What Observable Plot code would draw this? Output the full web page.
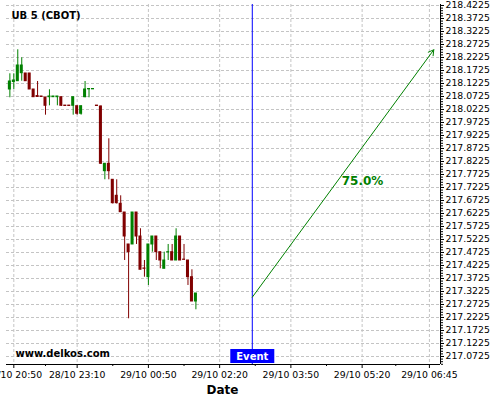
<!DOCTYPE html>
<html>
<head>
<meta charset="utf-8">
<script src="https://cdn.jsdelivr.net/npm/d3@7"></script>
<script src="https://cdn.jsdelivr.net/npm/@observablehq/plot@0.6"></script>
<style>
  body { margin: 0; background: #fff; }
  svg { display: block; }
</style>
</head>
<body>
<div id="chart"></div>
<script>
// ---- data ----
const title = "UB 5 (CBOT)";
const watermark = "www.delkos.com";
const xLabel = "Date";
const eventLabel = "Event";
const probLabel = "75.0%";

const candleIdx = [0,1,2,3,4,5,6,7,8,9,10,11,12,13,14,15,16,17,18,19,20,21,22,23,24,25,26,27,28,29,30,31,32,33,34,35,36,37,38,39,40,41,42,43,44,45,46,47];
const open  = [218.0994,218.1283,218.1313,218.1621,218.1610,218.1610,218.0994,218.0744,218.0725,218.0687,218.0698,218.0698,218.0698,218.0698,218.0375,218.0375,218.0367,218.0352,218.0060,218.0698,218.1000,218.1000,218.0375,218.0340,217.7852,217.8137,217.7521,217.6906,217.6598,217.6263,217.5033,217.5033,217.6263,217.5340,217.4110,217.3775,217.5033,217.5340,217.4737,217.4098,217.4730,217.4737,217.4417,217.5340,217.4450,217.4417,217.3775,217.2840];
const high  = [218.1598,218.1598,218.2521,218.2213,218.1610,218.1610,218.0994,218.1302,218.0725,218.0687,218.0983,218.0725,218.0725,218.0698,218.0375,218.0375,218.0698,218.0352,218.0352,218.1302,218.1013,218.1013,218.0375,218.0360,217.8137,217.9098,217.7521,217.7521,217.6906,217.6263,217.5033,217.6263,217.6263,217.5637,217.4417,217.5033,217.5340,217.5340,217.4737,217.4737,217.5033,217.5033,217.5637,217.5340,217.5033,217.4417,217.4060,217.3148];
const low   = [218.0675,218.0994,218.1313,218.1313,218.1313,218.0994,218.0698,218.0698,218.0706,218.0006,218.0367,218.0698,218.0367,218.0340,218.0360,218.0360,218.0006,218.0006,218.0006,218.0675,218.0675,218.1000,218.0360,217.8110,217.7521,217.7521,217.6590,217.6590,217.6263,217.4417,217.2175,217.5033,217.5033,217.4060,217.3775,217.3456,217.4737,217.4417,217.4098,217.4098,217.4417,217.4417,217.4417,217.4417,217.4417,217.3456,217.2840,217.2521];
const close = [218.1302,218.1340,218.1917,218.1917,218.1313,218.0994,218.0698,218.0706,218.0706,218.0367,218.0725,218.0725,218.0725,218.0367,218.0360,218.0360,218.0698,218.0060,218.0352,218.0994,218.1013,218.1013,218.0360,217.8137,217.8137,217.7852,217.6621,217.6621,217.6275,217.5340,217.4737,217.6263,217.5340,217.4060,217.4098,217.5033,217.5340,217.4737,217.4417,217.4417,217.4737,217.4417,217.5340,217.4417,217.4444,217.3775,217.2840,217.3148];

const xTickIdx = [1, 17, 35, 53, 71, 89, 106];
const xTickLabels = ["28/10 20:50", "28/10 23:10", "29/10 00:50", "29/10 02:20", "29/10 03:50", "29/10 05:20", "29/10 06:45"];
const xMinorIdx = [9, 26, 44, 62, 80, 97.5];
const yTicks = [217.0725,217.1225,217.1725,217.2225,217.2725,217.3225,217.3725,217.4225,217.4725,217.5225,217.5725,217.6225,217.6725,217.7225,217.7725,217.8225,217.8725,217.9225,217.9725,218.0225,218.0725,218.1225,218.1725,218.2225,218.2725,218.3225,218.3725,218.4225];

const eventIdx = 61.25;
const arrowFrom = [61.25, 217.3006];
const arrowTo = [107.1, 218.2521];
const probPos = [89.1, 217.7456];

// ---- chart ----
const xDomain = [-0.85, 108.8];
const yDomain = [217.0417, 218.4263];
const candles = candleIdx.map((i, k) => ({i, o: open[k], h: high[k], l: low[k], c: close[k]}));
const upColor = "#008000", downColor = "#800000";
const candleColor = d => (d.c >= d.o ? upColor : downColor);
const gridColor = "#c4c4c4";
const yMinor = d3.range(0, 140).map(k => +(217.0425 + k * 0.01).toFixed(4)).filter(v => v >= yDomain[0] && v <= yDomain[1]);
const arrowData = [{x1: arrowFrom[0], y1: arrowFrom[1], x2: arrowTo[0], y2: arrowTo[1]}];

const chart = Plot.plot({
  width: 500,
  height: 400,
  marginLeft: 6,
  marginRight: 60,
  marginTop: 4,
  marginBottom: 36,
  x: {domain: xDomain, axis: null},
  y: {domain: yDomain, axis: null},
  style: {fontFamily: "'DejaVu Sans', sans-serif", background: "#fff", color: "#000", overflow: "hidden"},
  marks: [
    Plot.gridY(yTicks, {stroke: gridColor, strokeOpacity: 1, strokeDasharray: "3,2"}),
    Plot.gridX(xTickIdx, {stroke: gridColor, strokeOpacity: 1, strokeDasharray: "3,2"}),
    Plot.axisY(yMinor, {anchor: "right", tickSize: 2, tickFormat: () => "", label: null}),
    Plot.axisY(yTicks, {anchor: "right", tickSize: 3, tickPadding: 2, tickFormat: d => d.toFixed(4), fontSize: 9.3, label: null}),
    Plot.axisX(xMinorIdx, {anchor: "bottom", tickSize: 2, tickFormat: () => "", label: null}),
    Plot.axisX(xTickIdx, {anchor: "bottom", tickSize: 4, tickPadding: 3, tickFormat: d => xTickLabels[xTickIdx.indexOf(d)], fontSize: 9.3, label: null}),
    Plot.ruleY([yDomain[0]], {stroke: "#000"}),
    Plot.ruleX([xDomain[1]], {stroke: "#000"}),
    // candles
    Plot.ruleX(candles, {x: "i", y1: "l", y2: "h", stroke: candleColor}),
    Plot.rect(candles, {x1: d => d.i - 0.38, x2: d => d.i + 0.38, y1: "o", y2: "c", fill: candleColor, insetTop: -0.5, insetBottom: -0.5}),
    // event
    Plot.ruleX([eventIdx], {stroke: "#0000ff"}),
    Plot.ruleX([eventIdx], {stroke: "#0000ff", strokeWidth: 44, insetTop: 345, insetBottom: 1}),
    Plot.text([eventLabel], {x: eventIdx, frameAnchor: "bottom", lineAnchor: "middle", dy: -8, fill: "#fff", fontWeight: "bold", fontSize: 10}),
    // projection arrow
    Plot.arrow(arrowData, {x1: "x1", y1: "y1", x2: "x2", y2: "y2", stroke: "#008000", strokeWidth: 1, headLength: 9}),
    Plot.text([probLabel], {x: probPos[0], y: probPos[1], fill: "#008000", fontWeight: "bold", fontSize: 12, lineAnchor: "middle"}),
    // texts
    Plot.text([title], {frameAnchor: "top-left", textAnchor: "start", lineAnchor: "middle", dx: 5, dy: 11.5, fontWeight: "bold", fontSize: 10}),
    Plot.text([watermark], {frameAnchor: "bottom-left", textAnchor: "start", lineAnchor: "middle", dx: 9, dy: -10.7, fontWeight: "bold", fontSize: 10}),
    Plot.text([xLabel], {frameAnchor: "bottom", textAnchor: "middle", lineAnchor: "middle", dx: -1, dy: 25.5, fontWeight: "bold", fontSize: 12})
  ]
});
document.getElementById("chart").appendChild(chart);
</script>
</body>
</html>
